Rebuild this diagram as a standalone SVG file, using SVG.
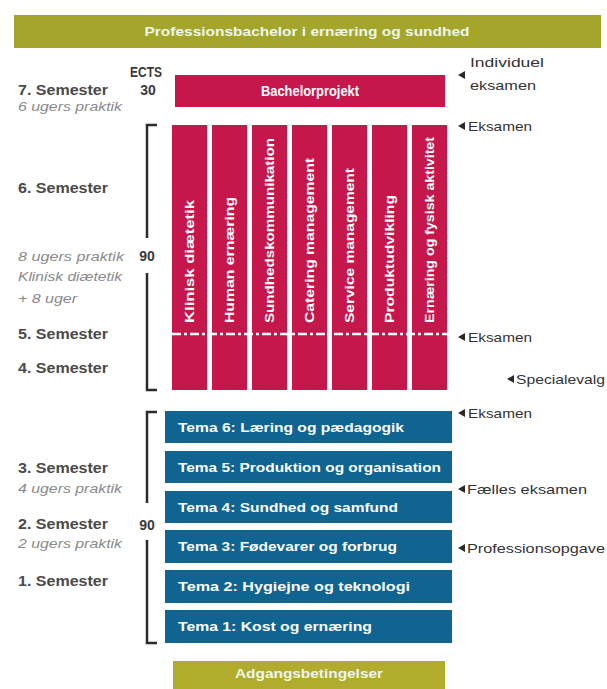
<svg xmlns="http://www.w3.org/2000/svg" width="607" height="689" viewBox="0 0 607 689">
<style>
.olive{fill:#a4a62c}
.olive2{fill:#b1ac2e}
.red{fill:#c5174b}
.blue{fill:#0f6492}
.wt{fill:#ffffff;font-family:"Liberation Sans",Arial,sans-serif;font-weight:bold;font-size:13px}
.big{font-size:14.5px}
.title{fill:#eef7e6;font-family:"Liberation Sans",Arial,sans-serif;font-weight:bold;font-size:13px}
.vt{fill:#ffffff;font-family:"Liberation Sans",Arial,sans-serif;font-weight:bold;font-size:12px}
.sem{fill:#4a4a4a;font-family:"Liberation Sans",Arial,sans-serif;font-weight:bold;font-size:14px}
.it{fill:#8a8a8a;font-family:"Liberation Sans",Arial,sans-serif;font-style:italic;font-size:13px}
.ects{fill:#3a3a3a;font-family:"Liberation Sans",Arial,sans-serif;font-weight:bold;font-size:14px}
.rl{fill:#333333;font-family:"Liberation Sans",Arial,sans-serif;font-size:13.5px}
.br{fill:none;stroke:#2b2b2b;stroke-width:2.5}
.tri{fill:#2b2b2b}
.dash{stroke:#ffffff;stroke-width:2.5;stroke-dasharray:9 3 3 3;fill:none}
</style>

<g id="header">
  <rect class="olive" x="14" y="15" width="587" height="33"/>
  <text class="title" x="307" y="36" text-anchor="middle" textLength="325" lengthAdjust="spacingAndGlyphs">Professionsbachelor i ernæring og sundhed</text>
</g>

<g id="semester-labels">
  <text class="ects" x="146" y="77" text-anchor="middle" textLength="32" lengthAdjust="spacingAndGlyphs">ECTS</text>
  <text class="ects" x="148" y="95" text-anchor="middle">30</text>
  <text class="sem" x="18" y="95" textLength="90" lengthAdjust="spacingAndGlyphs">7. Semester</text>
  <text class="it" x="18" y="111" textLength="104" lengthAdjust="spacingAndGlyphs">6 ugers praktik</text>
  <text class="sem" x="18" y="193" textLength="90" lengthAdjust="spacingAndGlyphs">6. Semester</text>
  <text class="it" x="18" y="261" textLength="106" lengthAdjust="spacingAndGlyphs">8 ugers praktik</text>
  <text class="it" x="18" y="281" textLength="104" lengthAdjust="spacingAndGlyphs">Klinisk diætetik</text>
  <text class="it" x="18" y="303" textLength="59" lengthAdjust="spacingAndGlyphs">+ 8 uger</text>
  <text class="sem" x="18" y="339" textLength="90" lengthAdjust="spacingAndGlyphs">5. Semester</text>
  <text class="sem" x="18" y="373" textLength="90" lengthAdjust="spacingAndGlyphs">4. Semester</text>
  <text class="sem" x="18" y="473" textLength="90" lengthAdjust="spacingAndGlyphs">3. Semester</text>
  <text class="it" x="18" y="493" textLength="104" lengthAdjust="spacingAndGlyphs">4 ugers praktik</text>
  <text class="sem" x="18" y="529" textLength="90" lengthAdjust="spacingAndGlyphs">2. Semester</text>
  <text class="it" x="18" y="548" textLength="104" lengthAdjust="spacingAndGlyphs">2 ugers praktik</text>
  <text class="sem" x="18" y="586" textLength="90" lengthAdjust="spacingAndGlyphs">1. Semester</text>
</g>

<g id="brackets">
  <path class="br" d="M157 125 H147 V238 M147 273 V390 H157"/>
  <text class="ects" x="147" y="261" text-anchor="middle">90</text>
  <path class="br" d="M157 412 H147 V503 M147 540 V643 H157"/>
  <text class="ects" x="147" y="530" text-anchor="middle">90</text>
</g>

<g id="bachelorprojekt">
  <rect class="red" x="175" y="75" width="270" height="32"/>
  <text class="wt big" x="310" y="96" text-anchor="middle" textLength="98" lengthAdjust="spacingAndGlyphs">Bachelorprojekt</text>
</g>

<g id="specialer">
  <g id="spec-1"><rect class="red" x="172" y="125" width="35" height="265"/>
    <text class="vt" transform="translate(194,323) rotate(-90)" textLength="123" lengthAdjust="spacingAndGlyphs">Klinisk diætetik</text></g>
  <g id="spec-2"><rect class="red" x="212" y="125" width="35" height="265"/>
    <text class="vt" transform="translate(234,323) rotate(-90)" textLength="126" lengthAdjust="spacingAndGlyphs">Human ernæring</text></g>
  <g id="spec-3"><rect class="red" x="252" y="125" width="35" height="265"/>
    <text class="vt" transform="translate(274,323) rotate(-90)" textLength="185" lengthAdjust="spacingAndGlyphs">Sundhedskommunikation</text></g>
  <g id="spec-4"><rect class="red" x="292" y="125" width="35" height="265"/>
    <text class="vt" transform="translate(314,323) rotate(-90)" textLength="165" lengthAdjust="spacingAndGlyphs">Catering management</text></g>
  <g id="spec-5"><rect class="red" x="332" y="125" width="35" height="265"/>
    <text class="vt" transform="translate(354,323) rotate(-90)" textLength="155" lengthAdjust="spacingAndGlyphs">Service management</text></g>
  <g id="spec-6"><rect class="red" x="372" y="125" width="35" height="265"/>
    <text class="vt" transform="translate(394,323) rotate(-90)" textLength="128" lengthAdjust="spacingAndGlyphs">Produktudvikling</text></g>
  <g id="spec-7"><rect class="red" x="412" y="125" width="35" height="265"/>
    <text class="vt" transform="translate(434,323) rotate(-90)" textLength="186" lengthAdjust="spacingAndGlyphs">Ernæring og fysisk aktivitet</text></g>
  <line class="dash" x1="172" y1="334" x2="447" y2="334"/>
</g>

<g id="temaer">
  <g id="tema-6"><rect class="blue" x="165" y="411" width="287" height="32"/>
    <text class="wt" x="178" y="432" textLength="226" lengthAdjust="spacingAndGlyphs">Tema 6: Læring og pædagogik</text></g>
  <g id="tema-5"><rect class="blue" x="165" y="451" width="287" height="32"/>
    <text class="wt" x="178" y="472" textLength="263" lengthAdjust="spacingAndGlyphs">Tema 5: Produktion og organisation</text></g>
  <g id="tema-4"><rect class="blue" x="165" y="491" width="287" height="32"/>
    <text class="wt" x="178" y="512" textLength="220" lengthAdjust="spacingAndGlyphs">Tema 4: Sundhed og samfund</text></g>
  <g id="tema-3"><rect class="blue" x="165" y="530" width="287" height="33"/>
    <text class="wt" x="178" y="551" textLength="219" lengthAdjust="spacingAndGlyphs">Tema 3: Fødevarer og forbrug</text></g>
  <g id="tema-2"><rect class="blue" x="165" y="570" width="287" height="33"/>
    <text class="wt" x="178" y="591" textLength="232" lengthAdjust="spacingAndGlyphs">Tema 2: Hygiejne og teknologi</text></g>
  <g id="tema-1"><rect class="blue" x="165" y="610" width="287" height="33"/>
    <text class="wt" x="178" y="631" textLength="194" lengthAdjust="spacingAndGlyphs">Tema 1: Kost og ernæring</text></g>
</g>

<g id="adgang">
  <rect class="olive2" x="173" y="661" width="272" height="28"/>
  <text class="title" x="309" y="678" text-anchor="middle" textLength="148" lengthAdjust="spacingAndGlyphs">Adgangsbetingelser</text>
</g>

<g id="exam-labels">
  <polygon class="tri" points="458,75 465,71 465,79"/>
  <text class="rl" x="470" y="67" textLength="74" lengthAdjust="spacingAndGlyphs">Individuel</text>
  <text class="rl" x="470" y="90" textLength="66" lengthAdjust="spacingAndGlyphs">eksamen</text>
  <polygon class="tri" points="458,126 465,122 465,130"/>
  <text class="rl" x="468" y="131" textLength="64" lengthAdjust="spacingAndGlyphs">Eksamen</text>
  <polygon class="tri" points="458,337 465,333 465,341"/>
  <text class="rl" x="468" y="342" textLength="64" lengthAdjust="spacingAndGlyphs">Eksamen</text>
  <polygon class="tri" points="507,379 514,375 514,383"/>
  <text class="rl" x="516" y="384" textLength="89" lengthAdjust="spacingAndGlyphs">Specialevalg</text>
  <polygon class="tri" points="458,413 465,409 465,417"/>
  <text class="rl" x="468" y="418" textLength="64" lengthAdjust="spacingAndGlyphs">Eksamen</text>
  <polygon class="tri" points="458,489 465,485 465,493"/>
  <text class="rl" x="467" y="494" textLength="120" lengthAdjust="spacingAndGlyphs">Fælles eksamen</text>
  <polygon class="tri" points="458,548 465,544 465,552"/>
  <text class="rl" x="467" y="553" textLength="138" lengthAdjust="spacingAndGlyphs">Professionsopgave</text>
</g>
</svg>
